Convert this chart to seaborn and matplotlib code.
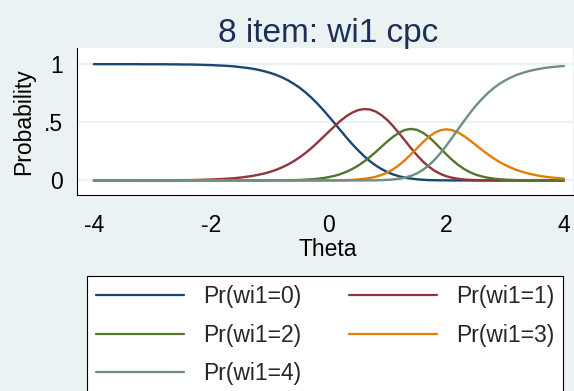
import numpy as np
import pandas as pd
import seaborn as sns
import matplotlib
matplotlib.use("Agg")
import matplotlib.pyplot as plt

# theta grid and category probabilities
theta = [-4.0, -3.9, -3.8, -3.7, -3.6, -3.5, -3.4, -3.3, -3.2, -3.1,
         -3.0, -2.9, -2.8, -2.7, -2.6, -2.5, -2.4, -2.3, -2.2, -2.1,
         -2.0, -1.9, -1.8, -1.7, -1.6, -1.5, -1.4, -1.3, -1.2, -1.1,
         -1.0, -0.9, -0.8, -0.7, -0.6, -0.5, -0.4, -0.3, -0.2, -0.1,
         0.0, 0.1, 0.2, 0.3, 0.4, 0.5, 0.6, 0.7, 0.8, 0.9,
         1.0, 1.1, 1.2, 1.3, 1.4, 1.5, 1.6, 1.7, 1.8, 1.9,
         2.0, 2.1, 2.2, 2.3, 2.4, 2.5, 2.6, 2.7, 2.8, 2.9,
         3.0, 3.1, 3.2, 3.3, 3.4, 3.5, 3.6, 3.7, 3.8, 3.9,
         4.0]

pr0 = [1.000, 1.000, 1.000, 1.000, 1.000, 1.000, 1.000, 1.000, 0.999, 0.999,
       0.999, 0.999, 0.999, 0.998, 0.998, 0.997, 0.997, 0.996, 0.995, 0.993,
       0.992, 0.989, 0.987, 0.984, 0.980, 0.974, 0.968, 0.961, 0.951, 0.939,
       0.925, 0.908, 0.887, 0.862, 0.832, 0.798, 0.758, 0.713, 0.663, 0.608,
       0.550, 0.490, 0.429, 0.369, 0.311, 0.258, 0.209, 0.165, 0.128, 0.097,
       0.071, 0.051, 0.035, 0.024, 0.016, 0.010, 0.006, 0.003, 0.002, 0.001,
       0.001, 0.000, 0.000, 0.000, 0.000, 0.000, 0.000, 0.000, 0.000, 0.000,
       0.000, 0.000, 0.000, 0.000, 0.000, 0.000, 0.000, 0.000, 0.000, 0.000,
       0.000]

pr1 = [0.000, 0.000, 0.000, 0.000, 0.000, 0.000, 0.000, 0.000, 0.001, 0.001,
       0.001, 0.001, 0.001, 0.002, 0.002, 0.003, 0.003, 0.004, 0.005, 0.007,
       0.008, 0.011, 0.013, 0.016, 0.020, 0.025, 0.032, 0.039, 0.049, 0.060,
       0.074, 0.091, 0.112, 0.136, 0.165, 0.198, 0.235, 0.277, 0.323, 0.371,
       0.420, 0.468, 0.514, 0.553, 0.584, 0.605, 0.614, 0.610, 0.592, 0.560,
       0.517, 0.463, 0.403, 0.340, 0.276, 0.217, 0.163, 0.119, 0.083, 0.056,
       0.036, 0.023, 0.014, 0.008, 0.005, 0.003, 0.001, 0.001, 0.000, 0.000,
       0.000, 0.000, 0.000, 0.000, 0.000, 0.000, 0.000, 0.000, 0.000, 0.000,
       0.000]

pr2 = [0.000, 0.000, 0.000, 0.000, 0.000, 0.000, 0.000, 0.000, 0.000, 0.000,
       0.000, 0.000, 0.000, 0.000, 0.000, 0.000, 0.000, 0.000, 0.000, 0.000,
       0.000, 0.000, 0.000, 0.000, 0.000, 0.000, 0.000, 0.000, 0.000, 0.000,
       0.001, 0.001, 0.001, 0.002, 0.003, 0.004, 0.007, 0.010, 0.014, 0.020,
       0.029, 0.040, 0.055, 0.075, 0.099, 0.128, 0.163, 0.203, 0.246, 0.292,
       0.337, 0.378, 0.412, 0.435, 0.443, 0.435, 0.411, 0.374, 0.327, 0.276,
       0.224, 0.176, 0.134, 0.099, 0.071, 0.050, 0.035, 0.024, 0.016, 0.011,
       0.007, 0.005, 0.003, 0.002, 0.001, 0.001, 0.001, 0.000, 0.000, 0.000,
       0.000]

pr3 = [0.000, 0.000, 0.000, 0.000, 0.000, 0.000, 0.000, 0.000, 0.000, 0.000,
       0.000, 0.000, 0.000, 0.000, 0.000, 0.000, 0.000, 0.000, 0.000, 0.000,
       0.000, 0.000, 0.000, 0.000, 0.000, 0.000, 0.000, 0.000, 0.000, 0.000,
       0.000, 0.000, 0.000, 0.000, 0.000, 0.000, 0.000, 0.000, 0.000, 0.000,
       0.001, 0.001, 0.002, 0.003, 0.005, 0.009, 0.014, 0.021, 0.032, 0.048,
       0.070, 0.098, 0.134, 0.177, 0.226, 0.277, 0.328, 0.374, 0.410, 0.432,
       0.440, 0.432, 0.412, 0.382, 0.345, 0.305, 0.265, 0.227, 0.192, 0.160,
       0.133, 0.109, 0.089, 0.073, 0.059, 0.048, 0.038, 0.031, 0.025, 0.020,
       0.016]

pr4 = [0.000, 0.000, 0.000, 0.000, 0.000, 0.000, 0.000, 0.000, 0.000, 0.000,
       0.000, 0.000, 0.000, 0.000, 0.000, 0.000, 0.000, 0.000, 0.000, 0.000,
       0.000, 0.000, 0.000, 0.000, 0.000, 0.000, 0.000, 0.000, 0.000, 0.000,
       0.000, 0.000, 0.000, 0.000, 0.000, 0.000, 0.000, 0.000, 0.000, 0.000,
       0.000, 0.000, 0.000, 0.000, 0.000, 0.000, 0.000, 0.001, 0.001, 0.003,
       0.005, 0.009, 0.015, 0.025, 0.040, 0.061, 0.091, 0.130, 0.178, 0.235,
       0.300, 0.369, 0.441, 0.511, 0.579, 0.642, 0.698, 0.748, 0.792, 0.829,
       0.860, 0.886, 0.908, 0.925, 0.940, 0.951, 0.961, 0.969, 0.975, 0.980,
       0.984]

labels = ["Pr(wi1=0)", "Pr(wi1=1)", "Pr(wi1=2)", "Pr(wi1=3)", "Pr(wi1=4)"]
colors = ["#1A476F", "#90353B", "#55752F", "#E37E00", "#6E8E84"]

# long form table for seaborn
df = pd.concat([pd.DataFrame({"theta": theta, "prob": p, "cat": lab})
                for p, lab in zip([pr0, pr1, pr2, pr3, pr4], labels)],
               ignore_index=True)

bg = "#EAF2F3"
sns.set_style("white")
plt.rcParams["font.family"] = ["Liberation Sans", "DejaVu Sans"]

fig = plt.figure(figsize=(5.74, 3.91), dpi=100, facecolor=bg)
ax = fig.add_axes([0.134, 0.501, 0.864, 0.376])
ax.set_facecolor("white")

sns.lineplot(data=df, x="theta", y="prob", hue="cat", hue_order=labels,
             palette=colors, linewidth=1.7, ax=ax)

ax.set_xlim(-4.289, 4.153)
ax.set_ylim(-0.126, 1.138)
ax.set_xticks([-4, -2, 0, 2, 4])
ax.set_xticklabels(["-4", "-2", "0", "2", "4"])
ax.set_yticks([0, 0.5, 1])
ax.set_yticklabels(["0", ".5", "1"])
ax.grid(axis="y", color=bg, linewidth=1.5)
ax.grid(axis="x", visible=False)
ax.set_axisbelow(True)

for side in ["top", "right"]:
    ax.spines[side].set_visible(False)
for side in ["left", "bottom"]:
    ax.spines[side].set_color("black")
    ax.spines[side].set_linewidth(0.8)

ax.tick_params(direction="out", length=7, width=0.8, color="black",
               labelsize=16.5, labelcolor="black")
ax.tick_params(axis="x", pad=6.5)
ax.tick_params(axis="y", pad=3)

ax.set_xlabel("Theta", fontsize=16.5, color="black")
ax.set_ylabel("Probability", fontsize=16.5, color="black")
ax.xaxis.set_label_coords(0.506, -0.29)
ax.yaxis.set_label_coords(-0.085, 0.5)

fig.text(0.571, 1 - 42 / 391, "8 item: wi1 cpc", ha="center", va="baseline",
         fontsize=24, color="#1E2F55")

handles, labs = ax.get_legend_handles_labels()
ax.get_legend().remove()
order = [0, 2, 4, 1, 3]
for h in handles:
    h.set_linewidth(1.6)
leg = fig.legend([handles[i] for i in order], [labs[i] for i in order],
                 loc="upper left", bbox_to_anchor=(87 / 574, 1 - 276 / 391),
                 bbox_transform=fig.transFigure, ncol=2, frameon=True,
                 fancybox=False, edgecolor="black", framealpha=1,
                 fontsize=16.5, handlelength=3.84, handletextpad=0.83,
                 columnspacing=2.07, labelspacing=0.67, borderpad=0.4,
                 borderaxespad=0)
leg.get_frame().set_linewidth(0.8)

fig.savefig("out.png", dpi=100, facecolor=bg)
